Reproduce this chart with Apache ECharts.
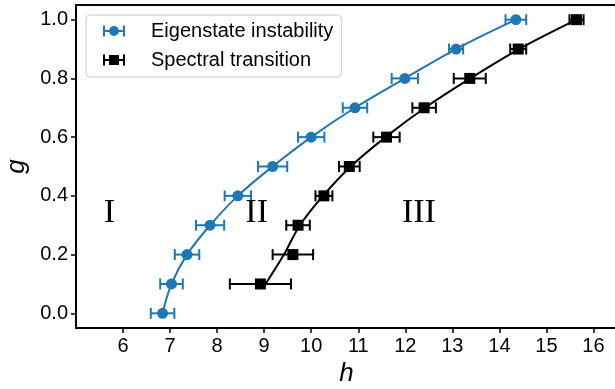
<!DOCTYPE html>
<html>
<head>
<meta charset="utf-8">
<script src="https://cdn.jsdelivr.net/npm/echarts@6/dist/echarts.min.js"></script>
<style>
  html, body { margin: 0; padding: 0; background: #fff; }
  #chart { width: 615px; height: 389px; }
</style>
</head>
<body>
<div id="chart"></div>
<script>
// g values (y) for each series
var gEigen = [0.0, 0.1, 0.2, 0.3, 0.4, 0.5, 0.6, 0.7, 0.8, 0.9, 1.0];
var hEigen = [6.84, 7.03, 7.36, 7.85, 8.44, 9.18, 10.0, 10.93, 11.99, 13.08, 14.35];
var errEigen = [0.25, 0.24, 0.26, 0.30, 0.28, 0.31, 0.28, 0.26, 0.28, 0.15, 0.22];

var gSpec = [0.1, 0.2, 0.3, 0.4, 0.5, 0.6, 0.7, 0.8, 0.9, 1.0];
var hSpec = [8.92, 9.61, 9.72, 10.27, 10.81, 11.60, 12.40, 13.37, 14.40, 15.64];
var errSpec = [0.65, 0.43, 0.25, 0.18, 0.22, 0.28, 0.25, 0.34, 0.17, 0.15];
// fitted curve for the spectral transition
var hSpecFit = [9.03, 9.42, 9.76, 10.25, 10.84, 11.58, 12.42, 13.38, 14.42, 15.64];

// region labels
var regionNames = ['I', 'II', 'III'];
var regionH = [5.71, 8.84, 12.29];
var regionG = [0.34, 0.34, 0.34];

var xTicks = [6, 7, 8, 9, 10, 11, 12, 13, 14, 15, 16];
var yTicks = [0.0, 0.2, 0.4, 0.6, 0.8, 1.0];

var BLUE = '#1f77b4';
var SANS = '"Liberation Sans", Arial, sans-serif';

function pairs(xs, ys) {
    var out = [];
    for (var i = 0; i < xs.length; i++) out.push([xs[i], ys[i]]);
    return out;
}
function errData(xs, errs, ys) {
    var out = [];
    for (var i = 0; i < xs.length; i++) out.push([xs[i] - errs[i], xs[i] + errs[i], ys[i]]);
    return out;
}
// horizontal error bar with caps
function renderErr(params, api) {
    var lo = api.coord([api.value(0), api.value(2)]);
    var hi = api.coord([api.value(1), api.value(2)]);
    var c = api.visual('color');
    var h = 5.5;
    var st = { stroke: c, lineWidth: 2 };
    return {
        type: 'group',
        children: [
            { type: 'line', shape: { x1: lo[0], y1: lo[1], x2: hi[0], y2: hi[1] }, style: st },
            { type: 'line', shape: { x1: lo[0], y1: lo[1] - h, x2: lo[0], y2: lo[1] + h }, style: st },
            { type: 'line', shape: { x1: hi[0], y1: hi[1] - h, x2: hi[0], y2: hi[1] + h }, style: st }
        ]
    };
}

// legend icons: errorbar + marker
var iconCircle = 'path://M0,0 h2 v11 h-2 Z M20,0 h2 v11 h-2 Z M0,4.5 h22 v2 h-22 Z M11,0.5 a5,5 0 1,1 0,10 a5,5 0 1,1 0,-10 Z';
var iconSquare = 'path://M0,0 h2 v11 h-2 Z M20,0 h2 v11 h-2 Z M0,4.5 h22 v2 h-22 Z M6,0.5 h10 v10 h-10 Z';

var chart = echarts.init(document.getElementById('chart'), null, { renderer: 'canvas' });

chart.setOption({
    animation: false,
    backgroundColor: '#fff',
    grid: {
        left: 76, top: 5, width: 541, height: 323,
        outerBoundsMode: 'none', containLabel: false,
        show: true, borderColor: '#000', borderWidth: 2, backgroundColor: 'transparent'
    },
    legend: {
        orient: 'vertical',
        left: 86, top: 15,
        data: [
            { name: 'Eigenstate instability', icon: iconCircle },
            { name: 'Spectral transition', icon: iconSquare }
        ],
        itemWidth: 22, itemHeight: 11, itemGap: 9,
        padding: [6, 8, 7, 17],
        borderColor: '#cccccc', borderWidth: 1, borderRadius: 4,
        backgroundColor: 'rgba(255,255,255,0.8)',
        itemStyle: { borderWidth: 0 },
        textStyle: { fontSize: 20, lineHeight: 20, color: '#000', fontFamily: SANS, padding: [0, 0, 0, 21] }
    },
    xAxis: {
        type: 'value', min: 5, max: 16.5,
        name: 'h', nameLocation: 'middle', nameGap: 33, nameMoveOverlap: false,
        nameTextStyle: { fontSize: 26, fontStyle: 'italic', color: '#000', fontFamily: SANS },
        axisLine: { show: true, onZero: false, lineStyle: { color: '#000', width: 2 } },
        axisTick: { show: true, length: 5, customValues: xTicks, lineStyle: { color: '#000', width: 1.5 } },
        axisLabel: { customValues: xTicks, fontSize: 20, color: '#000', fontFamily: SANS, margin: 8 },
        splitLine: { show: false }
    },
    yAxis: {
        type: 'value', min: -0.05, max: 1.05,
        name: 'g', nameLocation: 'middle', nameRotate: 90, nameGap: 46, nameMoveOverlap: false,
        nameTextStyle: { fontSize: 26, fontStyle: 'italic', color: '#000', fontFamily: SANS },
        axisLine: { show: true, onZero: false, lineStyle: { color: '#000', width: 2 } },
        axisTick: { show: true, length: 5, customValues: yTicks, lineStyle: { color: '#000', width: 1.5 } },
        axisLabel: {
            customValues: yTicks, fontSize: 20, color: '#000', fontFamily: SANS, margin: 8,
            formatter: function (v) { return v.toFixed(1); }
        },
        splitLine: { show: false }
    },
    series: [
        {
            type: 'line', data: pairs(hEigen, gEigen), smooth: 0.35, symbol: 'none',
            lineStyle: { color: BLUE, width: 2 }, z: 2, silent: true
        },
        {
            type: 'line', data: pairs(hSpecFit, gSpec), smooth: 0.35, symbol: 'none',
            lineStyle: { color: '#000', width: 2 }, z: 2, silent: true
        },
        {
            type: 'custom', renderItem: renderErr, data: errData(hEigen, errEigen, gEigen),
            itemStyle: { color: BLUE }, z: 3, silent: true
        },
        {
            type: 'custom', renderItem: renderErr, data: errData(hSpec, errSpec, gSpec),
            itemStyle: { color: '#000' }, z: 3, silent: true
        },
        {
            name: 'Eigenstate instability', type: 'scatter', data: pairs(hEigen, gEigen),
            symbol: 'circle', symbolSize: 11, itemStyle: { color: BLUE, opacity: 1 }, z: 4, silent: true
        },
        {
            name: 'Spectral transition', type: 'scatter', data: pairs(hSpec, gSpec),
            symbol: 'rect', symbolSize: 11, itemStyle: { color: '#000', opacity: 1 }, z: 4, silent: true
        },
        {
            type: 'scatter', data: pairs(regionH, regionG), symbolSize: 0, silent: true, z: 5,
            itemStyle: { color: '#000', opacity: 1 },
            label: {
                show: true, position: 'inside', color: '#000', opacity: 1, fontSize: 34,
                textBorderWidth: 0,
                fontFamily: '"Liberation Serif", "Times New Roman", serif',
                formatter: function (p) { return regionNames[p.dataIndex]; }
            }
        }
    ]
});
</script>
</body>
</html>
